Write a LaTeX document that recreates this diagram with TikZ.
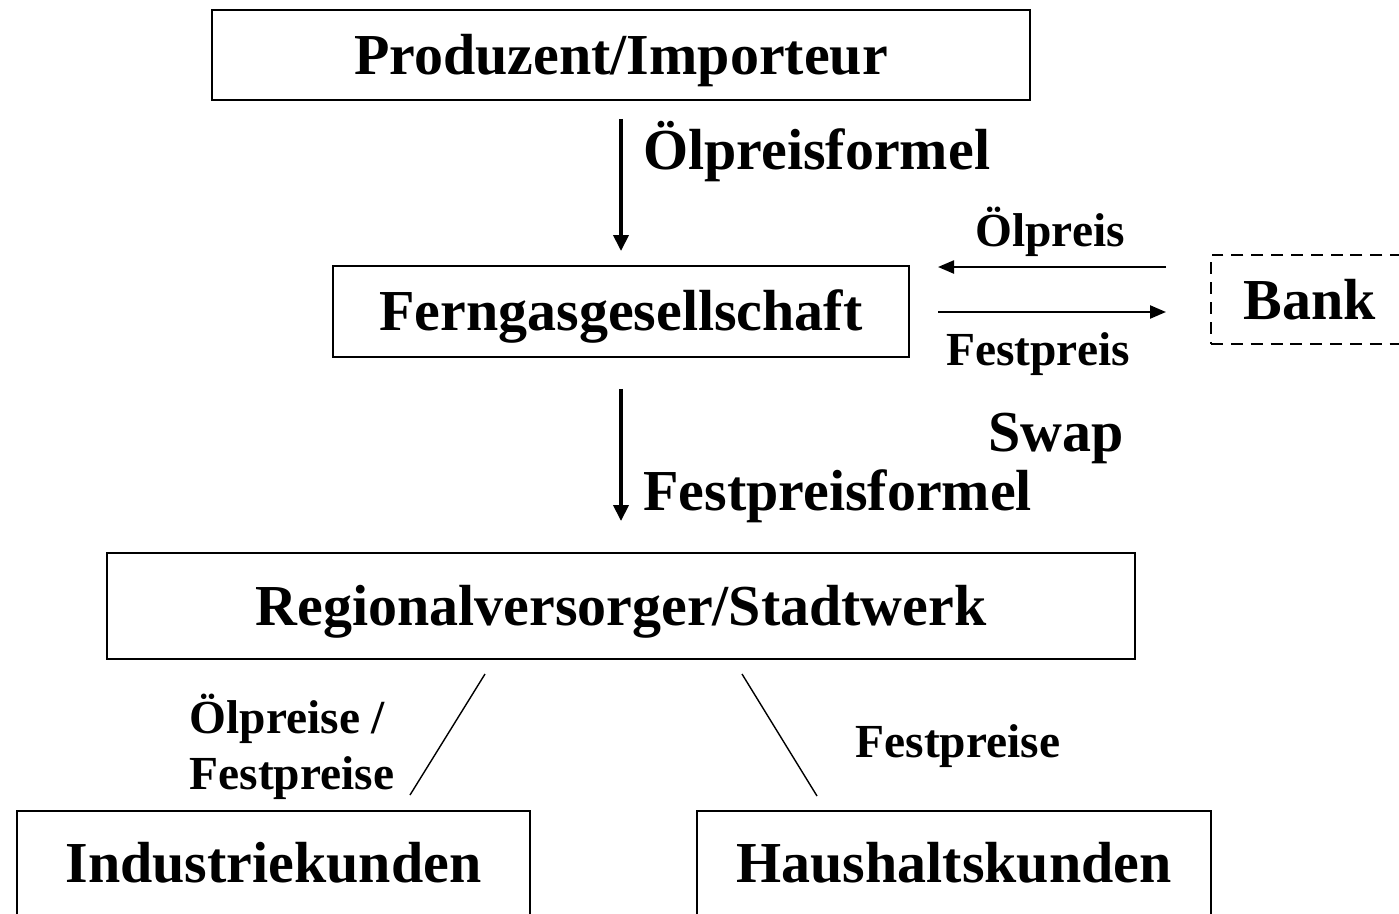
\documentclass[tikz,border=0pt]{standalone}
\usepackage{fontspec}
\setmainfont{Liberation Serif}
\usepackage{tikz}
\usetikzlibrary{
  arrows.meta,
  positioning
}
\newcommand{\bigfont}{\fontsize{33}{38}\selectfont\bfseries}
\newcommand{\smallfont}{\fontsize{27}{32}\selectfont\bfseries}
\tikzset{
  box/.style={draw, line width=1.1pt, inner sep=0pt, text height=0.77cm, text depth=0pt, font=\bigfont},
  flow/.style={line width=2.1pt, -{Triangle[length=0.32cm,width=0.3cm]}},
  swaparrow/.style={line width=1.3pt, -{Triangle[length=0.32cm,width=0.26cm]}},
  branch/.style={line width=0.8pt},
  lbl/.style={inner sep=0pt, font=\smallfont}
}

\begin{document}
\begin{tikzpicture}[x=0.02cm, y=-0.02cm]
  \useasboundingbox (0,0) rectangle (1399,913);
  % boxes of the supply chain
  \node[box, minimum width=16.36cm, minimum height=1.8cm] (prod) at (621,55) {Produzent/Importeur};
  \node[box, minimum width=11.52cm, minimum height=1.82cm] (fern) at (621,311.5) {Ferngasgesellschaft};
  \node[box, minimum width=20.56cm, minimum height=2.12cm] (regio) at (621,606) {Regionalversorger/Stadtwerk};
  \node[box, minimum width=10.26cm, minimum height=2.1cm] (indu) at (273.5,863.5) {Industriekunden};
  \node[box, minimum width=10.28cm, minimum height=2.1cm] (haus) at (954,863.5) {Haushaltskunden};
  \node[box, dashed, dash pattern=on 6.8pt off 4.5pt, minimum width=4cm, minimum height=1.78cm] (bank) at (1311,299.5) {};
  \node[inner sep=0pt, font=\bigfont] (banktxt) at (1310,300) {Bank};
  % vertical price arrows
  \draw[flow, shorten <=0.36cm, shorten >=0.28cm] (prod) -- (fern);
  \node[anchor=west, inner sep=0pt, font=\bigfont] (oelformel) at (643,152) {Ölpreisformel};
  \draw[flow, shorten <=0.62cm, shorten >=0.62cm] (fern) -- (regio);
  \node[anchor=west, inner sep=0pt, font=\bigfont] (festformel) at (643,496) {Festpreisformel};
  % swap with the bank
  \coordinate (bankin) at (1166,267);
  \coordinate (fernin) at (938,267);
  \coordinate (fernout) at (938,312);
  \coordinate (bankout) at (1166,312);
  \draw[swaparrow] (bankin) -- (fernin);
  \draw[swaparrow] (fernout) -- (bankout);
  \node[lbl] (oelpreis) at (1050,232) {Ölpreis};
  \node[lbl] (festpreis) at (1038,354) {Festpreis};
  \node[inner sep=0pt, font=\bigfont] (swap) at (1056,438) {Swap};
  % branches to the customers
  \coordinate (lefttop) at (485,674);
  \coordinate (leftbot) at (410,795);
  \coordinate (righttop) at (742,674);
  \coordinate (rightbot) at (817,796);
  \draw[branch] (lefttop) -- (leftbot);
  \draw[branch] (righttop) -- (rightbot);
  \node[lbl, align=left] (indupreis) at (292,747) {Ölpreise /\\Festpreise};
  \node[lbl] (hauspreis) at (958,746) {Festpreise};
\end{tikzpicture}
\end{document}
